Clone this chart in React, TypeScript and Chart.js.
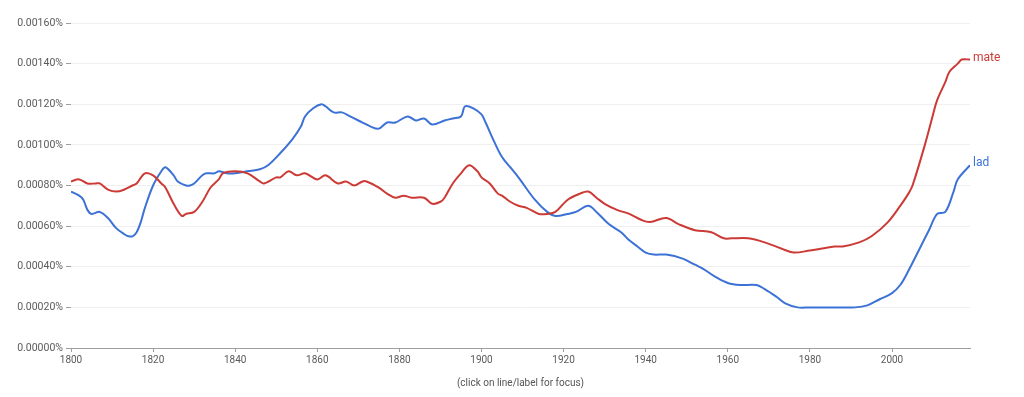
import React, { useEffect, useRef } from "react";
import { Chart, registerables } from "chart.js";

Chart.register(...registerables);

const mateYears = [1800,1802,1804,1806,1807,1809,1811,1813,1815,1816,1818,1820,1822,1823,1825,1827,1828,1830,1832,1834,1836,1837,1840,1843,1846,1847,1850,1851,1853,1855,1857,1860,1862,1865,1867,1869,1871,1872,1875,1877,1879,1881,1883,1886,1888,1890,1891,1893,1895,1897,1899,1900,1902,1904,1905,1907,1909,1911,1914,1916,1918,1921,1924,1926,1928,1930,1933,1936,1939,1941,1945,1948,1952,1956,1959,1961,1965,1969,1973,1976,1980,1983,1986,1988,1992,1995,1999,2002,2004,2005,2008,2010,2011,2013,2014,2016,2017,2019];
const mateValues = [0.00082,0.00083,0.00081,0.00081,0.00081,0.00078,0.00077,0.00078,0.00080,0.00081,0.00086,0.00085,0.00081,0.00079,0.00071,0.00065,0.00066,0.00067,0.00072,0.00079,0.00083,0.00086,0.00087,0.00086,0.00082,0.00081,0.00084,0.00084,0.00087,0.00085,0.00086,0.00083,0.00085,0.00081,0.00082,0.00080,0.00082,0.00082,0.00079,0.00076,0.00074,0.00075,0.00074,0.00074,0.00071,0.00072,0.00074,0.00081,0.00086,0.00090,0.00087,0.00084,0.00081,0.00076,0.00075,0.00072,0.00070,0.00069,0.00066,0.00066,0.00067,0.00073,0.00076,0.00077,0.00074,0.00071,0.00068,0.00066,0.00063,0.00062,0.00064,0.00061,0.00058,0.00057,0.00054,0.00054,0.00054,0.00052,0.00049,0.00047,0.00048,0.00049,0.00050,0.00050,0.00052,0.00055,0.00062,0.00070,0.00076,0.00080,0.00100,0.00115,0.00122,0.00131,0.00136,0.00140,0.00142,0.00142];

const ladYears = [1800,1802,1803,1804,1805,1807,1809,1811,1813,1814,1815,1816,1817,1818,1820,1822,1823,1825,1826,1828,1829,1830,1832,1833,1835,1836,1838,1840,1843,1846,1848,1851,1854,1856,1857,1859,1861,1862,1864,1866,1868,1870,1871,1873,1875,1877,1879,1882,1884,1886,1888,1891,1893,1895,1896,1898,1900,1901,1903,1905,1907,1909,1913,1916,1918,1921,1923,1926,1928,1931,1934,1936,1938,1940,1942,1945,1949,1952,1954,1957,1960,1963,1967,1969,1972,1974,1977,1980,1986,1991,1994,1997,2000,2002,2004,2007,2009,2011,2013,2015,2016,2019];
const ladValues = [0.00077,0.00075,0.00073,0.00068,0.00066,0.00067,0.00064,0.00059,0.00056,0.00055,0.00055,0.00057,0.00062,0.00069,0.00080,0.00087,0.00089,0.00085,0.00082,0.00080,0.00080,0.00081,0.00085,0.00086,0.00086,0.00087,0.00086,0.00086,0.00087,0.00088,0.00090,0.00096,0.00103,0.00109,0.00114,0.00118,0.00120,0.00119,0.00116,0.00116,0.00114,0.00112,0.00111,0.00109,0.00108,0.00111,0.00111,0.00114,0.00112,0.00113,0.00110,0.00112,0.00113,0.00114,0.00119,0.00118,0.00115,0.00111,0.00102,0.00094,0.00089,0.00084,0.00073,0.00067,0.00065,0.00066,0.00067,0.00070,0.00067,0.00061,0.00057,0.00053,0.00050,0.00047,0.00046,0.00046,0.00044,0.00041,0.00039,0.00035,0.00032,0.00031,0.00031,0.00029,0.00025,0.00022,0.00020,0.00020,0.00020,0.00020,0.00021,0.00024,0.00027,0.00031,0.00038,0.00050,0.00058,0.00066,0.00067,0.00077,0.00083,0.00090];

const seriesNames = ["mate", "lad"];
const seriesColors = ["#cc3a36", "#3c72d5"];
const yTickStep = 0.0002;
const yMax = 0.0016;
const xMin = 1800;
const xMax = 2019;
const xTickStep = 20;
const caption = "(click on line/label for focus)";

const toPoints = (years: number[], values: number[]) =>
  years.map((y, i) => ({ x: y, y: values[i] }));

const endLabels = {
  id: "endLabels",
  afterDatasetsDraw(chart: any) {
    const ctx = chart.ctx;
    ctx.save();
    ctx.font = "12px Roboto";
    ctx.textBaseline = "middle";
    ctx.textAlign = "left";
    chart.data.datasets.forEach((ds: any, i: number) => {
      const meta = chart.getDatasetMeta(i);
      const last = meta.data[meta.data.length - 1];
      if (!last) return;
      ctx.fillStyle = ds.borderColor;
      ctx.fillText(ds.label, last.x + 3, last.y - 2);
    });
    ctx.restore();
  },
};

export default function App() {
  const ref = useRef<HTMLCanvasElement | null>(null);
  useEffect(() => {
    document.body.style.margin = "0";
    const canvas = ref.current!;
    const chart = new Chart(canvas, {
      type: "line",
      data: {
        datasets: [
          {
            label: seriesNames[0],
            data: toPoints(mateYears, mateValues),
            borderColor: seriesColors[0],
            borderWidth: 2,
            pointRadius: 0,
            tension: 0.35,
          },
          {
            label: seriesNames[1],
            data: toPoints(ladYears, ladValues),
            borderColor: seriesColors[1],
            borderWidth: 2,
            pointRadius: 0,
            tension: 0.35,
          },
        ],
      },
      options: {
        animation: false,
        responsive: false,
        layout: { padding: { top: 23, right: 54, left: 0, bottom: 0 } },
        plugins: { legend: { display: false }, tooltip: { enabled: false } },
        scales: {
          x: {
            type: "linear",
            min: xMin,
            max: xMax,
            afterFit: (s: any) => {
              s.height = 49;
            },
            border: { display: true, color: "#9e9e9e", width: 1 },
            grid: {
              drawOnChartArea: false,
              drawTicks: true,
              tickLength: 4,
              tickColor: "#9e9e9e",
            },
            ticks: {
              stepSize: xTickStep,
              includeBounds: false,
              autoSkip: false,
              maxRotation: 0,
              padding: 2,
              color: "#5a5a5a",
              font: { family: "Roboto", size: 10 },
              callback: (v: any) => String(v),
            },
            title: {
              display: true,
              text: caption,
              color: "#555555",
              font: { family: "Roboto", size: 10 },
              padding: { top: 0, bottom: 8 },
            },
          },
          y: {
            min: 0,
            max: yMax,
            afterFit: (s: any) => {
              s.width = 71;
            },
            border: { display: false },
            grid: {
              color: "#efefef",
              tickColor: "#9e9e9e",
              tickLength: 5,
              drawTicks: true,
            },
            ticks: {
              stepSize: yTickStep,
              padding: 3,
              color: "#5a5a5a",
              font: { family: "Roboto", size: 10.5 },
              callback: (v: any) => Number(v).toFixed(5) + "%",
            },
          },
        },
      },
      plugins: [endLabels],
    });
    return () => chart.destroy();
  }, []);
  return (
    <div style={{ width: 1024, height: 397 }}>
      <canvas ref={ref} width={1024} height={397} style={{ display: "block" }} />
    </div>
  );
}
